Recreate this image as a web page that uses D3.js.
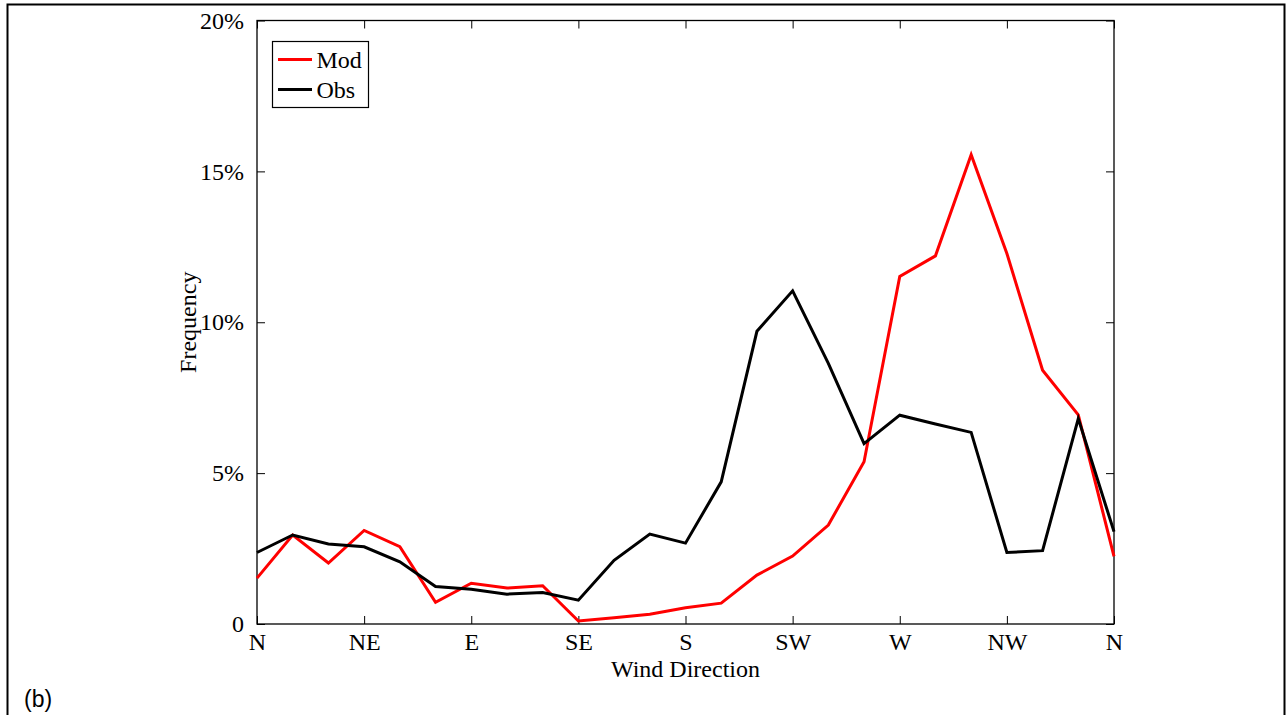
<!DOCTYPE html>
<html>
<head>
<meta charset="utf-8">
<script src="https://cdn.jsdelivr.net/npm/d3@7"></script>
<style>
  html, body { margin: 0; padding: 0; background: #fff; }
  svg { display: block; }
  .serif { font-family: "Liberation Serif", "Times New Roman", serif; }
</style>
</head>
<body>
<svg id="chart" width="1286" height="715"></svg>
<script>
// Wind direction bins every 15 degrees, from N (0) round to N (360)
const directions = d3.range(0, 361, 15);
const tickDirections = [0, 45, 90, 135, 180, 225, 270, 315, 360];
const tickLabels = ["N", "NE", "E", "SE", "S", "SW", "W", "NW", "N"];
const yTicks = [0, 5, 10, 15, 20];

// Frequency (%) of each direction bin
const modValues = [1.52, 2.95, 2.02, 3.10, 2.56, 0.72, 1.35, 1.19, 1.27, 0.10,
                   0.21, 0.32, 0.54, 0.69, 1.62, 2.25, 3.28, 5.38, 11.52, 12.20,
                   15.55, 12.28, 8.41, 6.93, 2.24];
const obsValues = [2.37, 2.95, 2.65, 2.56, 2.06, 1.24, 1.15, 0.99, 1.04, 0.79,
                   2.11, 2.98, 2.68, 4.71, 9.70, 11.04, 8.64, 5.98, 6.92, 6.63,
                   6.35, 2.37, 2.43, 6.81, 3.06];

const seriesNames = ["Mod", "Obs"];
const seriesColors = ["#ff0000", "#000000"];

const svg = d3.select("#chart");
const plot = { left: 257, right: 1114, top: 20.5, bottom: 624 };

// outer panel frame
svg.append("rect")
  .attr("x", 7.5).attr("y", 4.5)
  .attr("width", 1277).attr("height", 730)
  .attr("fill", "none").attr("stroke", "#000").attr("stroke-width", 2);

const x = d3.scaleLinear().domain([0, 360]).range([plot.left, plot.right]);
const y = d3.scaleLinear().domain([0, 20]).range([plot.bottom, plot.top]);

const tickLen = 8;

// bottom axis with labels
const xAxis = d3.axisBottom(x)
  .tickValues(tickDirections)
  .tickFormat((d, i) => tickLabels[i])
  .tickSizeInner(-tickLen).tickSizeOuter(0).tickPadding(9);
const gx = svg.append("g")
  .attr("transform", `translate(0,${plot.bottom})`)
  .call(xAxis);
gx.select(".domain").remove();
gx.selectAll("text").attr("class", "serif").attr("font-size", 24).attr("fill", "#000");
gx.selectAll("line").attr("stroke", "#000");

// top axis ticks (mirror)
const gxt = svg.append("g")
  .attr("transform", `translate(0,${plot.top})`)
  .call(d3.axisTop(x).tickValues(tickDirections).tickFormat("")
    .tickSizeInner(-tickLen).tickSizeOuter(0));
gxt.select(".domain").remove();
gxt.selectAll("line").attr("stroke", "#000");

// left axis with labels
const yAxis = d3.axisLeft(y)
  .tickValues(yTicks)
  .tickFormat(d => d === 0 ? "0" : d + "%")
  .tickSizeInner(-tickLen).tickSizeOuter(0).tickPadding(13);
const gy = svg.append("g")
  .attr("transform", `translate(${plot.left},0)`)
  .call(yAxis);
gy.select(".domain").remove();
gy.selectAll("text").attr("class", "serif").attr("font-size", 24).attr("fill", "#000");
gy.selectAll("line").attr("stroke", "#000");

// right axis ticks (mirror)
const gyr = svg.append("g")
  .attr("transform", `translate(${plot.right},0)`)
  .call(d3.axisRight(y).tickValues(yTicks).tickFormat("")
    .tickSizeInner(-tickLen).tickSizeOuter(0));
gyr.select(".domain").remove();
gyr.selectAll("line").attr("stroke", "#000");

// plot box
svg.append("rect")
  .attr("x", plot.left).attr("y", plot.top)
  .attr("width", plot.right - plot.left).attr("height", plot.bottom - plot.top)
  .attr("fill", "none").attr("stroke", "#000").attr("stroke-width", 1.3);

// series lines
const line = d3.line()
  .x((d, i) => x(directions[i]))
  .y(d => y(d));

[modValues, obsValues].forEach((vals, k) => {
  svg.append("path")
    .datum(vals)
    .attr("d", line)
    .attr("fill", "none")
    .attr("stroke", seriesColors[k])
    .attr("stroke-width", 3)
    .attr("stroke-linejoin", "miter");
});

// axis titles
svg.append("text")
  .attr("class", "serif")
  .attr("x", (plot.left + plot.right) / 2).attr("y", 677)
  .attr("text-anchor", "middle").attr("font-size", 24)
  .text("Wind Direction");

svg.append("text")
  .attr("class", "serif")
  .attr("transform", `translate(196,${(plot.top + plot.bottom) / 2}) rotate(-90)`)
  .attr("text-anchor", "middle").attr("font-size", 24)
  .text("Frequency");

// legend
const lg = svg.append("g").attr("transform", "translate(272.5,41.5)");
lg.append("rect")
  .attr("width", 96).attr("height", 66)
  .attr("fill", "#fff").attr("stroke", "#000").attr("stroke-width", 1.2);
seriesNames.forEach((name, i) => {
  const cy = 18 + i * 30;
  lg.append("line")
    .attr("x1", 5.5).attr("x2", 39.5).attr("y1", cy).attr("y2", cy)
    .attr("stroke", seriesColors[i]).attr("stroke-width", 3);
  lg.append("text")
    .attr("class", "serif")
    .attr("x", 44).attr("y", cy + 8).attr("font-size", 24)
    .text(name);
});

// panel letter
svg.append("text")
  .attr("x", 24).attr("y", 707)
  .attr("font-family", "Liberation Sans, Arial, sans-serif")
  .attr("font-size", 23)
  .text("(b)");
</script>
</body>
</html>
